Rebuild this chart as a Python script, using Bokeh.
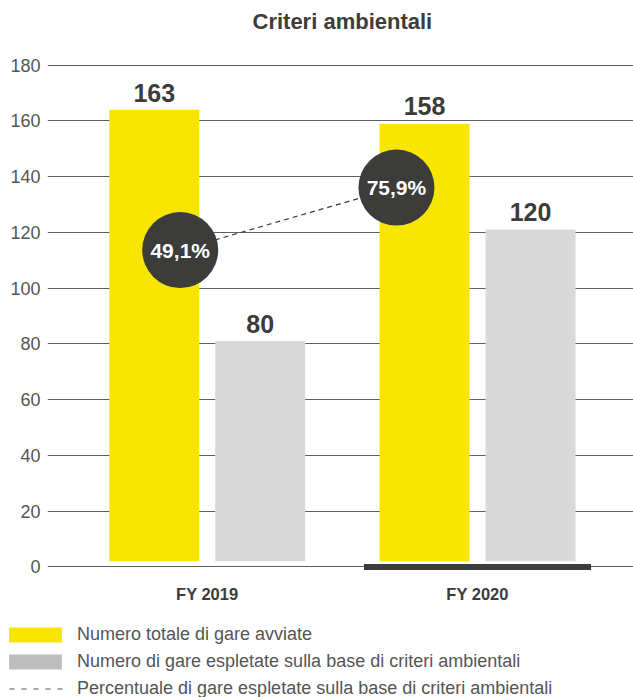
from bokeh.plotting import figure
from bokeh.layouts import column
from bokeh.models import Range1d, FixedTicker, ColumnDataSource, Legend, LegendItem
from bokeh.core.properties import value
from bokeh.embed import file_html
from bokeh.resources import INLINE

# ---------------- data ----------------
categories = ["FY 2019", "FY 2020"]
totale_gare = [163, 158]
gare_espletate = [80, 120]
percentuale = [49.1, 75.9]
y_ticks = [0, 20, 40, 60, 80, 100, 120, 140, 160, 180]
highlight_category = "FY 2020"
title_text = "Criteri ambientali"
legend_labels = [
    "Numero totale di gare avviate",
    "Numero di gare espletate sulla base di criteri ambientali",
    "Percentuale di gare espletate sulla base di criteri ambientali",
]

# ---------------- style ----------------
YELLOW = "#F6E600"
GRAY = "#D9D9D9"
LEGEND_GRAY = "#BDBDBD"
DARK = "#3C3C3B"
GRID = "#5F5F5F"
FONT = "Liberation Sans"
BAR_W = 0.333
BAR_OFF = 0.196
BAR_BASE = 2.0
BAR_LIFT = 1.0
PCT_X_OFF = [-0.1, -0.3]
HL_HALF = 0.42
NAN = float("nan")
W = 633

idx = list(range(len(categories)))

# ---------------- title strip ----------------
tf = figure(width=W, height=40, output_backend="svg", toolbar_location=None,
            x_range=Range1d(0, 1), y_range=Range1d(0, 1),
            x_axis_location=None, y_axis_location=None,
            min_border_left=0, min_border_right=0, min_border_top=0,
            min_border_bottom=0)
tf.frame_align = False
tf.outline_line_color = None
tf.grid.visible = False
tf.title.text = title_text
tf.title.align = "left"
tf.title.offset = 252
tf.title.standoff = 12
tf.title.text_line_height = 1.0
tf.title.text_font = FONT
tf.title.text_font_size = "22px"
tf.title.text_font_style = "bold"
tf.title.text_color = DARK

# ---------------- chart ----------------
p = figure(width=W, height=576, output_backend="svg", toolbar_location=None,
           x_range=Range1d(-0.591, 1.577), y_range=Range1d(-2, 183.1),
           min_border_left=47, min_border_right=0, min_border_top=16,
           min_border_bottom=44)
p.frame_align = False
p.extra_y_ranges = {"pct": Range1d(-89.2, 132.1)}
p.outline_line_color = None
p.background_fill_color = "white"
p.border_fill_color = "white"

# grid
p.xgrid.visible = False
p.ygrid.ticker = FixedTicker(ticks=y_ticks)
p.ygrid.grid_line_color = GRID
p.ygrid.grid_line_width = 1

# y axis
p.yaxis.ticker = FixedTicker(ticks=y_ticks)
p.yaxis.axis_line_color = None
p.yaxis.major_tick_line_color = None
p.yaxis.minor_tick_line_color = None
p.yaxis.major_label_standoff = 1
p.yaxis.major_label_text_font = FONT
p.yaxis.major_label_text_font_size = "18px"
p.yaxis.major_label_text_color = "#555555"

# x axis
p.xaxis.ticker = FixedTicker(ticks=idx)
p.xaxis.major_label_overrides = {i: c for i, c in zip(idx, categories)}
p.xaxis.axis_line_color = None
p.xaxis.major_tick_line_color = None
p.xaxis.minor_tick_line_color = None
p.xaxis.major_label_standoff = 6
p.xaxis.major_label_text_font = FONT
p.xaxis.major_label_text_font_size = "16.5px"
p.xaxis.major_label_text_font_style = "bold"
p.xaxis.major_label_text_color = DARK

# highlight under current year
hi = categories.index(highlight_category)
p.segment(x0=[hi - HL_HALF], x1=[hi + HL_HALF], y0=[0], y1=[0],
          line_color=DARK, line_width=6, line_cap="butt")

src = ColumnDataSource(dict(
    x_tot=[i - BAR_OFF for i in idx],
    x_esp=[i + BAR_OFF for i in idx],
    tot=totale_gare,
    esp=gare_espletate,
    tot_top=[v + BAR_LIFT for v in totale_gare],
    esp_top=[v + BAR_LIFT for v in gare_espletate],
    tot_lbl=[str(v) for v in totale_gare],
    esp_lbl=[str(v) for v in gare_espletate],
))

p.vbar(x="x_tot", top="tot_top", bottom=BAR_BASE, width=BAR_W, source=src,
       fill_color=YELLOW, line_color=None)
p.vbar(x="x_esp", top="esp_top", bottom=BAR_BASE, width=BAR_W, source=src,
       fill_color=GRAY, line_color=None)

for xcol, ycol, tcol in (("x_tot", "tot", "tot_lbl"), ("x_esp", "esp", "esp_lbl")):
    p.text(x=xcol, y=ycol, text=tcol, source=src, text_align="center",
           text_baseline="middle", y_offset=-20, text_font=value(FONT),
           text_font_size="25px", text_font_style="bold", text_color=DARK)

# percentage line + circles
psrc = ColumnDataSource(dict(
    x=[i + o for i, o in zip(idx, PCT_X_OFF)],
    y=percentuale,
    lbl=[f"{v:.1f}%".replace(".", ",") for v in percentuale],
))
p.line(x="x", y="y", source=psrc, y_range_name="pct", line_color=DARK,
       line_width=1.2, line_dash="5 4")
p.scatter(x="x", y="y", source=psrc, y_range_name="pct", marker="circle",
          size=76, fill_color=DARK, line_color=None)
p.text(x="x", y="y", text="lbl", source=psrc, y_range_name="pct",
       text_align="center", text_baseline="middle", text_font=value(FONT),
       text_font_size="21px", text_font_style="bold", text_color="white")

# ---------------- legend strip ----------------
lg = figure(width=W, height=81, output_backend="svg", toolbar_location=None,
            x_range=Range1d(0, 1), y_range=Range1d(0, 1),
            x_axis_location=None, y_axis_location=None,
            min_border_left=0, min_border_right=0, min_border_top=0,
            min_border_bottom=0)
lg.frame_align = False
lg.outline_line_color = None
lg.grid.visible = False
# swatch-only renderers (no visible marks: NaN coordinates)
r1 = lg.quad(left=[NAN], right=[NAN], top=[NAN], bottom=[NAN],
             fill_color=YELLOW, line_color=None)
r2 = lg.quad(left=[NAN], right=[NAN], top=[NAN], bottom=[NAN],
             fill_color=LEGEND_GRAY, line_color=None)
r3 = lg.line(x=[NAN, NAN], y=[NAN, NAN], line_color="#555555",
             line_width=1.2, line_dash="5 7", line_dash_offset=5)
legend = Legend(items=[LegendItem(label=legend_labels[0], renderers=[r1]),
                       LegendItem(label=legend_labels[1], renderers=[r2]),
                       LegendItem(label=legend_labels[2], renderers=[r3])],
                location=(2, -2), orientation="vertical",
                glyph_width=66, glyph_height=19, label_standoff=9,
                label_height=20, spacing=6, padding=0, margin=0,
                label_text_font=FONT, label_text_font_size="18px",
                label_text_color="#555555",
                background_fill_alpha=0, border_line_alpha=0)
lg.add_layout(legend)

layout = column(tf, p, lg, spacing=0)
open("out.html", "w").write(file_html(layout, INLINE))
